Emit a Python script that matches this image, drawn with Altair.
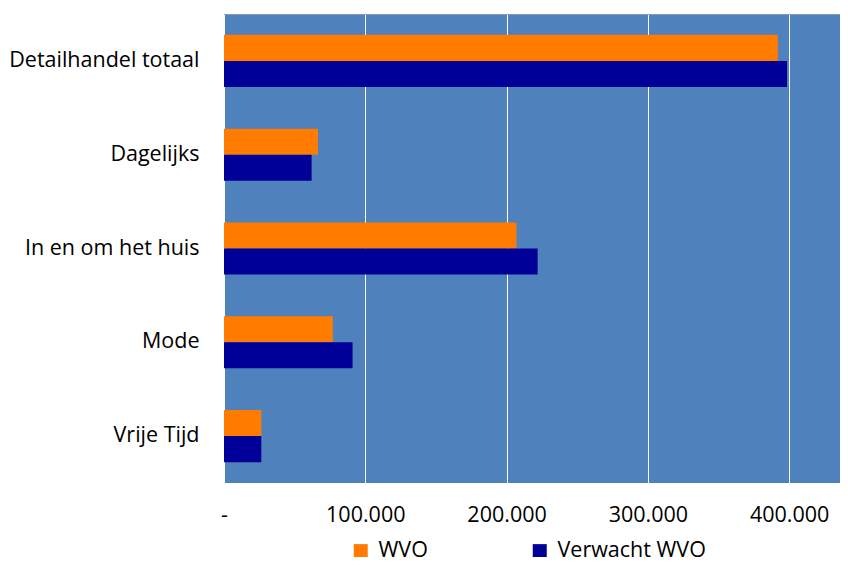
import altair as alt
import pandas as pd

categories = ["Detailhandel totaal", "Dagelijks", "In en om het huis", "Mode", "Vrije Tijd"]
series = ["WVO", "Verwacht WVO"]
wvo = [392000, 66500, 207000, 77000, 26400]
verwacht = [398500, 62000, 222000, 91000, 26400]
x_ticks = [0, 100000, 200000, 300000, 400000]

rows = []
for c, a, b in zip(categories, wvo, verwacht):
    rows.append({"cat": c, "serie": series[0], "value": a})
    rows.append({"cat": c, "serie": series[1], "value": b})
df = pd.DataFrame(rows)

FONT = "Open Sans"
FS = 21.5

bars = alt.Chart(df).mark_bar().encode(
    y=alt.Y("cat:N", sort=categories, title=None,
            scale=alt.Scale(paddingInner=0.445, paddingOuter=0.2225),
            axis=alt.Axis(ticks=False, tickSize=0, domain=False, grid=False,
                          labelPadding=25, labelFontSize=FS, labelFont=FONT,
                          labelColor="#000000", labelLimit=300)),
    yOffset=alt.YOffset("serie:N", sort=series, scale=alt.Scale(paddingInner=0, paddingOuter=0)),
    x=alt.X("value:Q", title=None,
            scale=alt.Scale(domain=[0, 436000], nice=False, zero=True),
            axis=alt.Axis(values=x_ticks, ticks=False, tickSize=0, domain=False,
                          grid=True, gridColor="#FFFFFF", gridWidth=1,
                          labelPadding=21, labelFontSize=FS, labelFont=FONT,
                          labelColor="#000000", labelFlush=False,
                          labelExpr="datum.value == 0 ? '-\u00a0\u00a0' : replace(format(datum.value, ',d'), /,/g, '.')")),
    color=alt.Color("serie:N", sort=series,
                    scale=alt.Scale(domain=series, range=["#FF7C00", "#000099"]),
                    legend=alt.Legend(title=None, orient="none", legendX=126, legendY=526,
                                      direction="horizontal", symbolType="square",
                                      symbolSize=196, symbolStrokeWidth=0,
                                      labelFontSize=FS, labelFont=FONT, labelColor="#000000",
                                      labelOffset=7, columnPadding=101, padding=0)),
)

top_border = alt.Chart(df).mark_rule(color="#8C9BB0", strokeWidth=1).encode(
    y=alt.value(0.5), x=alt.value(0), x2=alt.value(616)
)

chart = alt.layer(bars, top_border).properties(
    width=616, height=469,
    padding={"left": 216, "top": 6, "right": 0, "bottom": 74},
    autosize=alt.AutoSizeParams(type="none"),
    background="#FFFFFF",
).configure_view(
    fill="#4F81BD", stroke=None
)

chart.save("out.html", embed_options={"renderer": "svg", "actions": False})
